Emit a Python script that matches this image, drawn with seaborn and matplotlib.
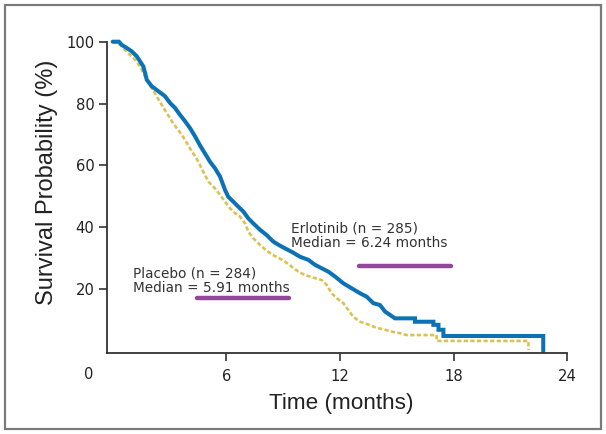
import matplotlib
matplotlib.use("Agg")
import matplotlib.pyplot as plt
import seaborn as sns
from matplotlib.patches import Rectangle

# Kaplan-Meier curves (time in months, survival in %).
# The early part is so densely stepped that it reads as a jagged line, so it is
# traced point by point; the later, sparse steps are given by their corners.
erl_time = [0, 0.33, 0.47, 0.74, 1.0, 1.27, 1.44, 1.62, 1.71, 1.80, 2.06,
            2.41, 2.76, 3.03, 3.29, 3.55, 3.82, 4.08, 4.35, 4.61, 4.87, 5.14,
            5.40, 5.67, 5.93, 6.10, 6.37, 6.63, 6.9, 7.16, 7.42, 7.78, 8.13,
            8.48, 8.8, 9.10, 9.45, 9.89, 10.33, 10.68, 11.03, 11.38, 11.74,
            12.18, 12.62, 13.06, 13.41, 13.76, 14.11, 14.38, 14.64, 14.9,
            15.96, 15.96, 16.93, 16.93, 17.2, 17.2, 17.46, 17.46, 22.73, 22.73]
erl_surv = [100, 100, 99.0, 98.0, 96.9, 95.3, 93.7, 92.0, 89.9, 87.7, 85.6,
            84.0, 82.4, 80.2, 78.6, 76.4, 74.3, 72.1, 69.4, 66.5, 63.9, 61.2,
            59.1, 56.4, 52.1, 49.9, 48.3, 46.7, 45.1, 42.9, 41.3, 39.2, 37.5,
            35.4, 34.2, 33.2, 32.1, 30.5, 29.5, 27.9, 26.8, 25.7, 24.1,
            21.9, 20.3, 18.7, 17.6, 15.5, 14.9, 12.8, 11.7, 10.6,
            10.6, 9.5, 9.5, 8.5, 8.5, 6.9, 6.9, 4.9, 4.9, 0]

plc_time = [0, 0.39, 0.82, 1.18, 1.44, 1.62, 1.8, 2.06, 2.32, 2.59, 2.85,
            3.12, 3.38, 3.64, 3.91, 4.17, 4.35, 4.52, 4.78, 5.05, 5.40, 5.67,
            5.93, 6.19, 6.46, 6.72, 6.99, 7.16, 7.42, 7.78, 8.1, 8.45, 8.8,
            9.10, 9.45, 9.80, 10.15, 10.68, 11.03, 11.30, 11.56, 11.83, 12.18,
            12.44, 12.70, 13.06, 13.5, 13.9, 14.38, 14.73, 15.17, 15.52,
            17.1, 17.1, 21.95, 21.95]
plc_surv = [100, 99.0, 96.3, 94.2, 92.0, 89.9, 87.7, 85.0, 82.4, 79.6, 77.0,
            74.3, 72.1, 70.0, 67.3, 64.6, 63.0, 61.2, 58.0, 54.8, 52.6, 50.5,
            48.3, 46.2, 44.6, 43.5, 41.3, 38.6, 36.5, 34.3, 32.6, 31.1, 30.0,
            28.9, 27.3, 25.7, 24.6, 23.6, 23.0, 21.4, 18.7, 17.1, 15.5,
            13.3, 11.1, 9.5, 8.6, 7.6, 6.9, 6.3, 5.8, 5.2,
            5.2, 3.3, 3.3, 0.4]

x_ticks = [6, 12, 18, 24]
y_ticks = [20, 40, 60, 80, 100]

erl_label = "Erlotinib (n = 285)\nMedian = 6.24 months"
plc_label = "Placebo (n = 284)\nMedian = 5.91 months"

sns.set_style("white")
plt.rcParams["font.family"] = ["DejaVu Sans"]

fig = plt.figure(figsize=(6.06, 4.34), dpi=100)
ax = fig.add_axes([107 / 606, 1 - 353 / 434, (567.3 - 107) / 606, (353 - 41.7) / 434])

sns.lineplot(x=plc_time, y=plc_surv, ax=ax,
             color="#dcc152", linewidth=1.9, linestyle=(0, (1.6, 0.9)),
             sort=False, estimator=None, clip_on=False)
sns.lineplot(x=erl_time, y=erl_surv, ax=ax,
             color="#0b72b5", linewidth=2.9, solid_joinstyle="miter",
             sort=False, estimator=None, clip_on=False)

ax.set_xlim(-0.3, 24)
ax.set_ylim(-0.6, 100)
ax.set_xticks(x_ticks)
ax.set_yticks(y_ticks)
ax.tick_params(axis="both", direction="out", length=6, width=1.2,
               color="#333333", labelsize=10.6, labelcolor="#222222",
               bottom=True, left=True)
ax.tick_params(axis="x", pad=5.5)
ax.tick_params(axis="y", pad=3)
ax.text(-1.25, -7.4, "0", ha="center", va="center", fontsize=10.6, color="#222222")

for side in ["top", "right"]:
    ax.spines[side].set_visible(False)
for side in ["left", "bottom"]:
    ax.spines[side].set_color("#333333")
    ax.spines[side].set_linewidth(1.3)

lab_font = ["Liberation Sans", "DejaVu Sans"]
ax.set_xlabel("Time (months)", fontsize=16.2, color="#222222", family=lab_font)
ax.set_ylabel("Survival Probability (%)", fontsize=17, color="#222222", family=lab_font)
ax.xaxis.set_label_coords(0.508, -0.128)
ax.yaxis.set_label_coords(-0.106, 0.549)

# annotations with purple underline bars
ax.text(9.4, 37.4, erl_label, fontsize=9.8, color="#333333",
        va="center", linespacing=1.05)
ax.text(1.06, 22.7, plc_label, fontsize=9.8, color="#333333",
        va="center", linespacing=1.05)
ax.plot([12.99, 17.85], [27.5, 27.5], color="#93479a", linewidth=3.2,
        solid_capstyle="round")
ax.plot([4.47, 9.32], [17.1, 17.1], color="#93479a", linewidth=3.2,
        solid_capstyle="round")

# grey frame around the figure
fig.patches.append(Rectangle((5 / 606, 5 / 434), 1 - 10 / 606, 1 - 10 / 434,
                             transform=fig.transFigure, fill=False,
                             edgecolor="#7a7a7a", linewidth=1.6))

fig.savefig("out.png", dpi=100)
